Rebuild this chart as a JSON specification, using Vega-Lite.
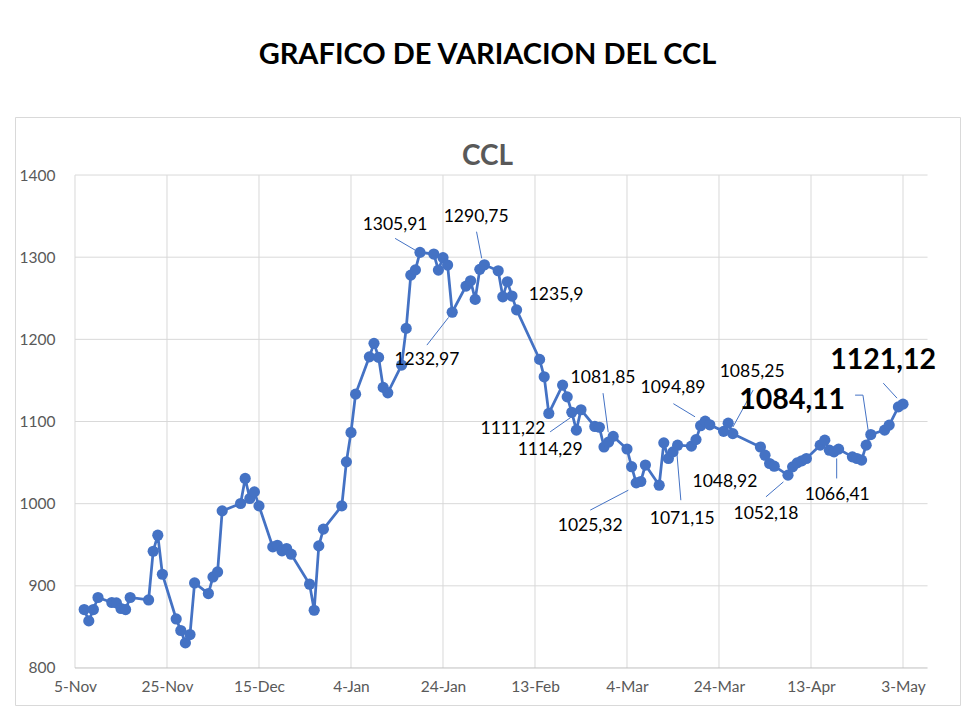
{
  "$schema": "https://vega.github.io/schema/vega-lite/v6.json",
  "width": 945,
  "height": 588,
  "padding": {"left": 15, "top": 41, "right": 20, "bottom": 11},
  "background": "white",
  "config": {
    "font": "Lato",
    "view": {"stroke": "#d9d9d9", "strokeWidth": 1}
  },
  "title": {
    "text": "GRAFICO DE VARIACION DEL CCL",
    "subtitle": "CCL",
    "anchor": "middle",
    "frame": "group",
    "font": "Lato",
    "fontSize": 29,
    "fontWeight": "bold",
    "color": "#000000",
    "subtitleFont": "Lato",
    "subtitleFontSize": 28,
    "subtitleFontWeight": "bold",
    "subtitleColor": "#595959",
    "subtitlePadding": 73,
    "offset": -54
  },
  "datasets": {
    "ccl": [
      {"date": "2023-11-07", "ccl": 871.1},
      {"date": "2023-11-08", "ccl": 857.3},
      {"date": "2023-11-09", "ccl": 871.1},
      {"date": "2023-11-10", "ccl": 885.8},
      {"date": "2023-11-13", "ccl": 879.7},
      {"date": "2023-11-14", "ccl": 879.2},
      {"date": "2023-11-15", "ccl": 872.4},
      {"date": "2023-11-16", "ccl": 871.1},
      {"date": "2023-11-17", "ccl": 885.8},
      {"date": "2023-11-21", "ccl": 882.8},
      {"date": "2023-11-22", "ccl": 942.1},
      {"date": "2023-11-23", "ccl": 961.6},
      {"date": "2023-11-24", "ccl": 914.1},
      {"date": "2023-11-27", "ccl": 859.7},
      {"date": "2023-11-28", "ccl": 845.6},
      {"date": "2023-11-29", "ccl": 830.5},
      {"date": "2023-11-30", "ccl": 840.7},
      {"date": "2023-12-01", "ccl": 903.5},
      {"date": "2023-12-04", "ccl": 890.6},
      {"date": "2023-12-05", "ccl": 910.8},
      {"date": "2023-12-06", "ccl": 916.9},
      {"date": "2023-12-07", "ccl": 991.2},
      {"date": "2023-12-11", "ccl": 1000.2},
      {"date": "2023-12-12", "ccl": 1030.7},
      {"date": "2023-12-13", "ccl": 1006.3},
      {"date": "2023-12-14", "ccl": 1014.3},
      {"date": "2023-12-15", "ccl": 997.3},
      {"date": "2023-12-18", "ccl": 947.4},
      {"date": "2023-12-19", "ccl": 949.4},
      {"date": "2023-12-20", "ccl": 942.5},
      {"date": "2023-12-21", "ccl": 945.4},
      {"date": "2023-12-22", "ccl": 938.5},
      {"date": "2023-12-26", "ccl": 902.0},
      {"date": "2023-12-27", "ccl": 870.3},
      {"date": "2023-12-28", "ccl": 948.6},
      {"date": "2023-12-29", "ccl": 969.0},
      {"date": "2024-01-02", "ccl": 997.3},
      {"date": "2024-01-03", "ccl": 1050.9},
      {"date": "2024-01-04", "ccl": 1086.7},
      {"date": "2024-01-05", "ccl": 1133.3},
      {"date": "2024-01-08", "ccl": 1178.7},
      {"date": "2024-01-09", "ccl": 1195.1},
      {"date": "2024-01-10", "ccl": 1178.0},
      {"date": "2024-01-11", "ccl": 1141.5},
      {"date": "2024-01-12", "ccl": 1134.9},
      {"date": "2024-01-15", "ccl": 1168.6},
      {"date": "2024-01-16", "ccl": 1213.3},
      {"date": "2024-01-17", "ccl": 1278.2},
      {"date": "2024-01-18", "ccl": 1284.5},
      {"date": "2024-01-19", "ccl": 1305.91},
      {"date": "2024-01-22", "ccl": 1303.8},
      {"date": "2024-01-23", "ccl": 1284.3},
      {"date": "2024-01-24", "ccl": 1299.5},
      {"date": "2024-01-25", "ccl": 1290.4},
      {"date": "2024-01-26", "ccl": 1232.97},
      {"date": "2024-01-29", "ccl": 1264.8},
      {"date": "2024-01-30", "ccl": 1271.3},
      {"date": "2024-01-31", "ccl": 1248.6},
      {"date": "2024-02-01", "ccl": 1285.2},
      {"date": "2024-02-02", "ccl": 1290.75},
      {"date": "2024-02-05", "ccl": 1283.5},
      {"date": "2024-02-06", "ccl": 1251.8},
      {"date": "2024-02-07", "ccl": 1270.1},
      {"date": "2024-02-08", "ccl": 1252.7},
      {"date": "2024-02-09", "ccl": 1235.9},
      {"date": "2024-02-14", "ccl": 1175.6},
      {"date": "2024-02-15", "ccl": 1154.4},
      {"date": "2024-02-16", "ccl": 1109.8},
      {"date": "2024-02-19", "ccl": 1144.3},
      {"date": "2024-02-20", "ccl": 1130.0},
      {"date": "2024-02-21", "ccl": 1111.22},
      {"date": "2024-02-22", "ccl": 1089.5},
      {"date": "2024-02-23", "ccl": 1114.29},
      {"date": "2024-02-26", "ccl": 1094.0},
      {"date": "2024-02-27", "ccl": 1093.0},
      {"date": "2024-02-28", "ccl": 1069.0},
      {"date": "2024-02-29", "ccl": 1075.0},
      {"date": "2024-03-01", "ccl": 1081.85},
      {"date": "2024-03-04", "ccl": 1066.5},
      {"date": "2024-03-05", "ccl": 1045.0},
      {"date": "2024-03-06", "ccl": 1025.32},
      {"date": "2024-03-07", "ccl": 1027.0},
      {"date": "2024-03-08", "ccl": 1047.0},
      {"date": "2024-03-11", "ccl": 1022.5},
      {"date": "2024-03-12", "ccl": 1074.0},
      {"date": "2024-03-13", "ccl": 1055.0},
      {"date": "2024-03-14", "ccl": 1063.0},
      {"date": "2024-03-15", "ccl": 1071.15},
      {"date": "2024-03-18", "ccl": 1070.0},
      {"date": "2024-03-19", "ccl": 1078.0},
      {"date": "2024-03-20", "ccl": 1094.89},
      {"date": "2024-03-21", "ccl": 1100.5},
      {"date": "2024-03-22", "ccl": 1096.0},
      {"date": "2024-03-25", "ccl": 1088.0},
      {"date": "2024-03-26", "ccl": 1098.0},
      {"date": "2024-03-27", "ccl": 1085.25},
      {"date": "2024-04-02", "ccl": 1069.0},
      {"date": "2024-04-03", "ccl": 1059.0},
      {"date": "2024-04-04", "ccl": 1048.92},
      {"date": "2024-04-05", "ccl": 1045.6},
      {"date": "2024-04-08", "ccl": 1034.7},
      {"date": "2024-04-09", "ccl": 1044.8},
      {"date": "2024-04-10", "ccl": 1049.7},
      {"date": "2024-04-11", "ccl": 1052.18},
      {"date": "2024-04-12", "ccl": 1055.0},
      {"date": "2024-04-15", "ccl": 1071.2},
      {"date": "2024-04-16", "ccl": 1077.3},
      {"date": "2024-04-17", "ccl": 1065.1},
      {"date": "2024-04-18", "ccl": 1063.1},
      {"date": "2024-04-19", "ccl": 1066.41},
      {"date": "2024-04-22", "ccl": 1057.0},
      {"date": "2024-04-23", "ccl": 1055.0},
      {"date": "2024-04-24", "ccl": 1053.0},
      {"date": "2024-04-25", "ccl": 1071.2},
      {"date": "2024-04-26", "ccl": 1084.11},
      {"date": "2024-04-29", "ccl": 1089.5},
      {"date": "2024-04-30", "ccl": 1095.6},
      {"date": "2024-05-02", "ccl": 1117.8},
      {"date": "2024-05-03", "ccl": 1121.12}
    ],
    "hgrid": [
      {"level": 900}, {"level": 1000}, {"level": 1100}, {"level": 1200}, {"level": 1300}, {"level": 1400}
    ],
    "vgrid": [
      {"day": "2023-11-05"}, {"day": "2023-11-25"}, {"day": "2023-12-15"}, {"day": "2024-01-04"}, {"day": "2024-01-24"},
      {"day": "2024-02-13"}, {"day": "2024-03-04"}, {"day": "2024-03-24"}, {"day": "2024-04-13"}, {"day": "2024-05-03"}
    ],
    "labels": [
      {"text": "1305,91", "at": "2024-01-13T14:00:00Z", "level": 1339.0},
      {"text": "1290,75", "at": "2024-01-31T05:00:00Z", "level": 1349.0},
      {"text": "1232,97", "at": "2024-01-20T12:00:00Z", "level": 1174.7},
      {"text": "1235,9", "at": "2024-02-17T14:00:00Z", "level": 1254.0},
      {"text": "1111,22", "at": "2024-02-08T05:00:00Z", "level": 1090.7},
      {"text": "1114,29", "at": "2024-02-16T07:00:00Z", "level": 1065.1},
      {"text": "1081,85", "at": "2024-02-27T19:00:00Z", "level": 1152.8},
      {"text": "1094,89", "at": "2024-03-14T00:00:00Z", "level": 1140.6},
      {"text": "1085,25", "at": "2024-03-31T05:00:00Z", "level": 1160.1},
      {"text": "1025,32", "at": "2024-02-25T00:00:00Z", "level": 972.6},
      {"text": "1071,15", "at": "2024-03-16T00:00:00Z", "level": 981.1},
      {"text": "1048,92", "at": "2024-03-25T07:00:00Z", "level": 1026.2},
      {"text": "1052,18", "at": "2024-04-03T05:00:00Z", "level": 987.2},
      {"text": "1066,41", "at": "2024-04-18T17:00:00Z", "level": 1010.3}
    ],
    "biglabels": [
      {"text": "1084,11", "at": "2024-04-08T22:00:00Z", "level": 1126.0},
      {"text": "1121,12", "at": "2024-04-28T16:00:00Z", "level": 1174.7}
    ],
    "leaders": [
      {"from": "2024-01-13T14:00:00Z", "fromLevel": 1322.9, "to": "2024-01-17T22:00:00Z", "toLevel": 1308.7},
      {"from": "2024-01-31T07:00:00Z", "fromLevel": 1331.0, "to": "2024-02-01T10:00:00Z", "toLevel": 1298.6},
      {"from": "2024-01-20T12:00:00Z", "fromLevel": 1193.0, "to": "2024-01-25T05:00:00Z", "toLevel": 1226.7},
      {"from": "2024-02-16T07:00:00Z", "fromLevel": 1087.4, "to": "2024-02-20T19:00:00Z", "toLevel": 1105.0},
      {"from": "2024-02-27T19:00:00Z", "fromLevel": 1134.5, "to": "2024-02-28T22:00:00Z", "toLevel": 1087.0},
      {"from": "2024-03-14T02:00:00Z", "fromLevel": 1121.7, "to": "2024-03-18T19:00:00Z", "toLevel": 1105.7},
      {"from": "2024-03-31T10:00:00Z", "fromLevel": 1138.2, "to": "2024-03-27T00:00:00Z", "toLevel": 1093.1},
      {"from": "2024-04-22T14:00:00Z", "fromLevel": 1132.1, "to": "2024-04-24T07:00:00Z", "toLevel": 1132.1},
      {"from": "2024-04-24T07:00:00Z", "fromLevel": 1132.1, "to": "2024-04-25T10:00:00Z", "toLevel": 1089.5},
      {"from": "2024-04-28T17:00:00Z", "fromLevel": 1146.7, "to": "2024-05-01T17:00:00Z", "toLevel": 1128.4},
      {"from": "2024-02-25T00:00:00Z", "fromLevel": 992.1, "to": "2024-03-04T07:00:00Z", "toLevel": 1016.4},
      {"from": "2024-03-14T19:00:00Z", "fromLevel": 1065.1, "to": "2024-03-15T17:00:00Z", "toLevel": 1004.2},
      {"from": "2024-04-03T05:00:00Z", "fromLevel": 1008.3, "to": "2024-04-07T00:00:00Z", "toLevel": 1026.5},
      {"from": "2024-04-18T14:00:00Z", "fromLevel": 1030.7, "to": "2024-04-18T14:00:00Z", "toLevel": 1055.0}
    ]
  },
  "layer": [
    {
      "data": {"name": "hgrid"},
      "mark": {"type": "rule", "color": "#d9d9d9", "strokeWidth": 1},
      "encoding": {
        "x": {"datum": {"year": 2023, "month": 11, "date": 5, "utc": true}, "type": "temporal"},
        "x2": {"datum": {"year": 2024, "month": 5, "date": 8, "hours": 8, "utc": true}},
        "y": {"field": "level", "type": "quantitative"}
      }
    },
    {
      "data": {"name": "vgrid"},
      "mark": {"type": "rule", "color": "#d9d9d9", "strokeWidth": 1},
      "encoding": {
        "x": {"field": "day", "type": "temporal"},
        "y": {"datum": 800, "type": "quantitative"},
        "y2": {"datum": 1400}
      }
    },
    {
      "data": {"values": [{"level": 800}]},
      "mark": {"type": "rule", "color": "#bfbfbf", "strokeWidth": 1},
      "encoding": {
        "x": {"datum": {"year": 2023, "month": 11, "date": 5, "utc": true}, "type": "temporal"},
        "x2": {"datum": {"year": 2024, "month": 5, "date": 8, "hours": 8, "utc": true}},
        "y": {"field": "level", "type": "quantitative"}
      }
    },
    {
      "data": {"name": "ccl"},
      "mark": {"type": "line", "color": "#4472C4", "strokeWidth": 2.75},
      "encoding": {
        "x": {
          "field": "date",
          "type": "temporal",
          "scale": {
            "type": "utc",
            "domain": [
              {"year": 2023, "month": 10, "date": 22, "hours": 23, "utc": true},
              {"year": 2024, "month": 5, "date": 15, "hours": 9, "minutes": 23, "utc": true}
            ]
          },
          "axis": {
            "title": null,
            "values": [
              {"year": 2023, "month": 11, "date": 5, "utc": true},
              {"year": 2023, "month": 11, "date": 25, "utc": true},
              {"year": 2023, "month": 12, "date": 15, "utc": true},
              {"year": 2024, "month": 1, "date": 4, "utc": true},
              {"year": 2024, "month": 1, "date": 24, "utc": true},
              {"year": 2024, "month": 2, "date": 13, "utc": true},
              {"year": 2024, "month": 3, "date": 4, "utc": true},
              {"year": 2024, "month": 3, "date": 24, "utc": true},
              {"year": 2024, "month": 4, "date": 13, "utc": true},
              {"year": 2024, "month": 5, "date": 3, "utc": true}
            ],
            "format": "%-d-%b",
            "offset": -37,
            "domain": false,
            "ticks": false,
            "grid": false,
            "labelPadding": 11,
            "labelFont": "Lato",
            "labelFontSize": 15.5,
            "labelColor": "#595959",
            "labelFlush": false,
            "labelOverlap": false
          }
        },
        "y": {
          "field": "ccl",
          "type": "quantitative",
          "scale": {"domain": [754.94, 1470.63], "nice": false, "zero": false},
          "axis": {
            "title": null,
            "values": [800, 900, 1000, 1100, 1200, 1300, 1400],
            "format": "d",
            "offset": -60,
            "domain": false,
            "ticks": false,
            "grid": false,
            "labelPadding": 20,
            "labelFont": "Lato",
            "labelFontSize": 15.5,
            "labelColor": "#595959",
            "labelFlush": false,
            "labelOverlap": false
          }
        }
      }
    },
    {
      "data": {"name": "ccl"},
      "mark": {"type": "circle", "color": "#4472C4", "size": 125, "opacity": 1},
      "encoding": {
        "x": {"field": "date", "type": "temporal"},
        "y": {"field": "ccl", "type": "quantitative"}
      }
    },
    {
      "data": {"name": "leaders"},
      "mark": {"type": "rule", "color": "#4472C4", "strokeWidth": 1},
      "encoding": {
        "x": {"field": "from", "type": "temporal"},
        "x2": {"field": "to"},
        "y": {"field": "fromLevel", "type": "quantitative"},
        "y2": {"field": "toLevel"}
      }
    },
    {
      "data": {"name": "labels"},
      "mark": {"type": "text", "font": "Lato", "fontSize": 17.5, "color": "#000000", "align": "center", "baseline": "middle"},
      "encoding": {
        "x": {"field": "at", "type": "temporal"},
        "y": {"field": "level", "type": "quantitative"},
        "text": {"field": "text"}
      }
    },
    {
      "data": {"name": "biglabels"},
      "mark": {"type": "text", "font": "Lato", "fontSize": 28.5, "fontWeight": "bold", "color": "#000000", "align": "center", "baseline": "middle"},
      "encoding": {
        "x": {"field": "at", "type": "temporal"},
        "y": {"field": "level", "type": "quantitative"},
        "text": {"field": "text"}
      }
    }
  ]
}
